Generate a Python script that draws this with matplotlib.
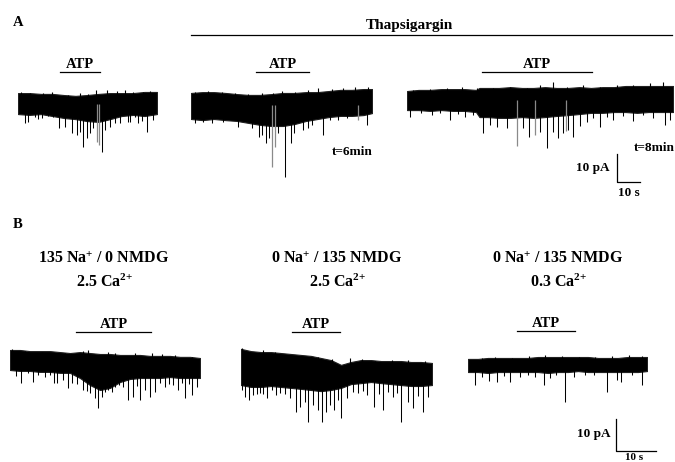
import matplotlib
matplotlib.use('Agg')
import matplotlib.pyplot as plt

plt.rcParams['font.family'] = ['Liberation Serif', 'DejaVu Serif']
plt.rcParams['font.weight'] = 'bold'
plt.rcParams['mathtext.fontset'] = 'custom'
plt.rcParams['mathtext.rm'] = 'Liberation Serif:bold'
plt.rcParams['mathtext.it'] = 'Liberation Serif:bold'
plt.rcParams['mathtext.bf'] = 'Liberation Serif:bold'

W, H = 675, 462

# ---------------- data (time in s, current in pA) ----------------
# Panel A, trace 1 (control)
a1_t = [0, 5, 10, 15, 20, 25, 30, 35, 40, 45, 50, 55, 60.4]
a1_up = [3.9, 3.9, 3.6, 3.6, 3.2, 2.9, 3.2, 3.6, 3.9, 3.9, 3.9, 4.3, 4.3]
a1_lo = [-3.6, -3.9, -3.6, -4.3, -5.0, -5.4, -6.1, -6.4, -5.4, -4.3, -3.9, -4.3, -3.6]
a1_spk_t = [3.0, 4.3, 7.4, 8.7, 10.3, 13.2, 15.4, 17.8, 20.4, 23.5, 25.7, 27.0, 28.3, 30.0, 31.3, 32.6,
            36.5, 37.8, 40.0, 42.2, 44.3, 48.0, 48.7, 50.9, 52.2, 53.8, 56.1, 58.7]
a1_spk_a = [-6.8, -6.4, -4.8, -5.4, -5.1, -4.3, -4.8, -8.6, -8.2, -10.4, -11.1, -10.0, -15.4, -12.1, -10.4, -8.6,
            -17.1, -9.3, -8.2, -6.8, -6.8, -6.3, -6.4, -4.8, -6.8, -6.0, -10.0, -5.7]
a1_gry_t = [34.3, 35.2]
a1_gry_a = [-13.6, -14.6]
a1_pk_t = [1.2, 5.2, 11.0, 14.7, 21.9, 26.9, 30.6, 33.9, 38.6, 42.9, 46.5, 50.1, 54.5, 57.4, 60.3]
a1_pk_a = [4.4, 4.0, 3.8, 4.2, 3.2, 4.0, 3.6, 5.0, 5.0, 4.6, 5.0, 4.4, 4.4, 4.6, 4.4]
a1_atp = (18.3, 35.7)

# Panel A, trace 2 (thapsigargin, t=6 min)
a2_t = [0, 5, 10, 15, 20, 25, 30, 35, 40, 45, 50, 55, 60, 65, 70, 75, 78.7]
a2_up = [4.3, 4.6, 4.6, 4.3, 3.9, 3.6, 3.6, 3.9, 4.3, 4.3, 4.6, 4.6, 5.0, 5.4, 5.4, 5.7, 5.7]
a2_lo = [-5.0, -5.4, -5.0, -5.4, -5.7, -6.4, -7.1, -7.5, -7.5, -6.8, -5.7, -5.0, -4.3, -3.9, -3.9, -3.6, -2.9]
a2_spk_t = [1.7, 5.0, 9.1, 14.0, 20.4, 26.5, 29.6, 30.9, 32.6, 33.9, 37.8, 40.9, 43.5, 44.8, 48.7, 50.9,
            52.6, 57.4, 60.5, 63.9, 68.0, 76.5]
a2_spk_a = [-6.4, -6.0, -6.4, -6.2, -7.9, -8.2, -11.4, -10.7, -13.6, -11.8, -10.0, -25.7, -13.6, -10.0, -8.9, -8.2,
            -7.1, -10.7, -5.4, -5.4, -4.8, -7.1]
a2_gry_t = [35.2, 36.5, 72.6]
a2_gry_a = [-22.1, -15.0, -5.4]
a2_pk_t = [1.7, 7.5, 13.3, 19.1, 24.9, 30.7, 35.8, 39.4, 45.2, 51.0, 55.3, 61.2, 66.2, 71.3, 77.1]
a2_pk_a = [4.8, 5.1, 4.8, 4.4, 3.9, 4.4, 4.2, 5.1, 4.8, 5.4, 6.0, 5.6, 6.0, 6.3, 6.5]
a2_atp = (28.3, 51.3)

# Panel A, trace 3 (thapsigargin, t=8 min)
a3_t = [0, 5, 10, 15, 20, 25, 30, 31.5, 35, 40, 45, 50, 55, 60, 65, 70, 75, 80, 85, 90, 95, 100, 105, 110, 115.7]
a3_up = [3.2, 3.6, 3.6, 3.9, 3.9, 3.9, 3.6, 4.3, 4.3, 4.3, 4.6, 4.3, 4.3, 4.6, 4.3, 4.3, 4.6, 4.3, 4.6, 4.6, 5.0, 5.0, 5.0, 5.0, 5.0]
a3_lo = [-3.6, -3.6, -3.9, -3.6, -3.9, -3.9, -4.3, -6.1, -6.1, -6.4, -6.4, -6.1, -6.4, -6.1, -5.7, -5.4, -5.0, -4.6, -4.6, -4.3, -4.3, -4.6, -4.3, -4.3, -4.3]
a3_spk_t = [1.3, 6.0, 10.9, 14.5, 18.7, 22.0, 25.2, 28.5, 33.0, 36.1, 39.1, 43.5, 50.4, 53.0, 57.8, 60.9, 63.5,
            65.7, 67.8, 70.0, 72.2, 75.2, 78.3, 81.0, 83.9, 87.0, 89.6, 94.0, 98.3, 102.5, 107.0, 112.2, 114.3]
a3_spk_a = [-6.1, -4.8, -5.4, -4.6, -7.1, -5.0, -6.1, -5.4, -11.8, -8.9, -9.6, -10.0, -10.0, -13.2, -11.4, -17.1, -11.4,
            -13.6, -11.8, -10.7, -13.2, -9.3, -7.9, -6.4, -9.6, -6.0, -7.1, -5.7, -7.5, -5.4, -6.4, -8.9, -7.1]
a3_gry_t = [47.8, 55.5, 69.0]
a3_gry_a = [-16.4, -12.5, -11.0]
a3_pk_t = [2.7, 10.0, 17.3, 23.8, 30.3, 37.5, 44.8, 52.0, 57.8, 63.6, 69.4, 76.7, 83.9, 91.2, 98.4, 105.7, 111.4]
a3_pk_a = [3.6, 3.9, 4.2, 4.8, 4.4, 4.2, 4.8, 4.4, 5.4, 6.5, 4.8, 5.4, 4.8, 5.4, 5.4, 6.0, 6.3]
a3_atp = (32.6, 80.4)

# Panel B, trace 1 (135 Na+ / 0 NMDG, 2.5 Ca2+)
b1_t = [0, 2.5, 5, 7.5, 10, 12.5, 15, 17.5, 20, 22.5, 25, 27.5, 30, 32.5, 35, 37.5, 40, 42.5, 45, 47.5]
b1_up = [3.75, 3.75, 3.4, 3.4, 3.4, 3.1, 2.8, 3.1, 2.8, 2.5, 2.5, 2.2, 2.2, 2.2, 1.9, 1.9, 1.9, 1.6, 1.6, 1.25]
b1_lo = [-2.5, -2.8, -2.8, -3.1, -3.1, -3.4, -3.4, -5.0, -7.2, -8.75, -8.1, -6.25, -5.3, -5.0, -5.0, -5.0, -4.7, -5.0, -5.0, -5.0]
b1_spk_t = [1.5, 2.8, 4.5, 5.8, 7.0, 8.8, 10.0, 11.0, 11.8, 13.3, 14.5, 15.5, 16.8, 18.3, 19.2, 20.0, 21.3, 22.0,
            23.0, 23.8, 24.5, 25.5, 26.3, 27.3, 28.3, 29.5, 30.8, 31.8, 32.5, 33.8, 35.0, 36.3, 37.5, 38.8, 39.8,
            40.8, 42.0, 43.0, 43.8, 44.8, 45.5, 46.8]
b1_spk_a = [-4.4, -6.6, -3.4, -6.3, -4.1, -4.7, -4.0, -6.6, -6.6, -5.6, -8.1, -6.6, -7.0, -8.8, -9.0, -9.7, -11.3, -14.4,
            -10.9, -9.5, -8.8, -9.4, -7.8, -7.2, -7.8, -11.9, -10.9, -7.5, -11.9, -8.8, -10.9, -9.4, -6.5, -7.8, -6.8,
            -7.2, -8.8, -6.6, -11.3, -7.0, -10.3, -7.8]
b1_gry_t = []
b1_gry_a = []
b1_pk_t = [0.4, 3.75, 7.9, 13.75, 18.3, 19.6, 24.6, 26.25, 31.25, 35.4, 37.9, 41.25, 45.4]
b1_pk_a = [4.0, 3.4, 3.2, 2.9, 3.5, 3.75, 3.2, 2.9, 2.7, 2.9, 2.5, 2.2, 1.5]
b1_atp = (16.5, 35.25)

# Panel B, trace 2 (0 Na+ / 135 NMDG, 2.5 Ca2+)
b2_t = [0, 2.5, 5, 7.5, 10, 12.5, 15, 17.5, 20, 22.5, 25, 27.5, 30, 32.5, 35, 37.5, 40, 42.5, 45, 47.75]
b2_up = [6.6, 5.9, 5.6, 5.6, 5.3, 5.0, 4.7, 4.4, 3.75, 3.1, 1.6, 2.5, 3.1, 3.1, 2.8, 2.8, 2.8, 2.5, 2.5, 2.2]
b2_lo = [-4.7, -5.3, -5.3, -5.0, -5.3, -5.6, -5.9, -6.25, -6.6, -6.25, -5.6, -4.4, -4.1, -3.75, -4.1, -4.4, -4.7, -5.0, -5.0, -4.7]
b2_spk_t = [0.25, 1.0, 2.0, 3.0, 4.0, 4.75, 5.6, 6.5, 7.75, 8.8, 9.75, 11.0, 12.25, 13.75, 14.75, 16.0, 16.75, 18.0,
            19.25, 20.25, 21.25, 22.25, 23.25, 24.2, 25.0, 26.5, 28.0, 29.25, 30.5, 31.5, 33.25, 34.5, 35.5, 36.8,
            38.0, 39.0, 40.0, 41.75, 43.0, 44.3, 45.5, 46.75]
b2_spk_a = [-6.25, -8.4, -9.4, -7.8, -7.5, -7.2, -7.5, -8.75, -6.25, -7.8, -7.2, -7.5, -8.75, -13.1, -11.6, -10.0,
            -16.25, -10.9, -12.5, -16.25, -13.1, -10.9, -12.5, -9.5, -15.0, -8.75, -7.0, -7.2, -6.5, -7.8, -11.6,
            -7.5, -12.5, -7.0, -8.4, -7.2, -16.25, -10.0, -11.9, -8.0, -13.1, -8.4]
b2_gry_t = []
b2_gry_a = []
b2_pk_t = [0.2, 5.6, 8.5, 15.2, 19.3, 22.7, 27.25, 30.2, 33.5, 37.7, 41.8, 46.0]
b2_pk_a = [6.8, 6.25, 5.7, 4.4, 4.2, 3.3, 3.6, 3.3, 2.9, 3.1, 3.1, 2.9]
b2_atp = (12.75, 24.75)

# Panel B, trace 3 (0 Na+ / 135 NMDG, 0.3 Ca2+)
b3_t = [0, 2.5, 5, 7.5, 10, 12.5, 15, 17.5, 20, 22.5, 25, 27.5, 30, 32.5, 35, 37.5, 40, 42.5, 44.75]
b3_up = [1.9, 1.9, 2.2, 2.2, 2.2, 2.2, 2.2, 2.5, 2.5, 2.5, 2.5, 2.5, 2.5, 2.2, 2.2, 2.2, 2.5, 2.5, 2.5]
b3_lo = [-2.2, -2.2, -2.5, -2.2, -2.2, -2.2, -2.2, -2.2, -2.5, -2.2, -2.2, -1.9, -2.2, -2.2, -2.2, -2.2, -2.2, -2.2, -1.9]
b3_spk_t = [1.75, 3.5, 5.25, 7.25, 9.0, 10.5, 13.0, 15.0, 16.75, 19.0, 20.5, 22.0, 24.25, 26.5, 29.25, 31.5,
            34.75, 37.25, 38.25, 41.0, 43.5]
b3_spk_a = [-6.25, -3.75, -5.0, -5.3, -3.4, -5.3, -3.75, -3.1, -3.75, -6.25, -4.1, -3.2, -11.6, -3.75, -3.1, -3.0,
            -8.4, -4.7, -5.3, -3.2, -6.25]
b3_gry_t = []
b3_gry_a = []
b3_pk_t = [3.5, 6.8, 11.0, 15.2, 19.3, 23.5, 27.7, 31.8, 36.0, 40.2, 43.5]
b3_pk_a = [2.3, 2.6, 2.3, 2.8, 3.1, 2.9, 2.6, 2.6, 2.9, 3.1, 2.8]
b3_atp = (12.25, 26.75)

# ---------------- layout (pixels) ----------------
A_PPS, A_PPA = 2.3, 2.8   # px per s, px per pA in panel A
B_PPS, B_PPA = 4.0, 3.2   # panel B

fig = plt.figure(figsize=(W / 100, H / 100), dpi=100)
ov = fig.add_axes([0, 0, 1, 1])
ov.set_xlim(0, W)
ov.set_ylim(H, 0)
ov.axis('off')


def px_axes(x0, ytop, wpx, hpx):
    ax = fig.add_axes([x0 / W, 1 - (ytop + hpx) / H, wpx / W, hpx / H])
    ax.axis('off')
    ax.patch.set_alpha(0)
    return ax


def trace(t, up, lo, st, sa, gt, ga, pt, pa, atp, x0, yb, pps, ppa, bar_px):
    ylo, yhi = -30.0, 15.0
    T = t[-1]
    ax = px_axes(x0, yb - yhi * ppa, T * pps, (yhi - ylo) * ppa)
    ax.set_xlim(0, T)
    ax.set_ylim(ylo, yhi)
    ax.fill_between(t, lo, up, color='black', lw=0.8, edgecolor='#202020')
    ax.vlines(pt, 0, pa, color='black', lw=0.8)
    ax.vlines(st, 0, sa, color='black', lw=0.75)
    if gt:
        ax.vlines(gt, 0, ga, color='#8a8a8a', lw=0.9)
    ybar = (yb - bar_px) / ppa
    ax.plot([atp[0], atp[1]], [ybar, ybar], color='black', lw=0.9, clip_on=False)
    ax.annotate('ATP', xy=((atp[0] + atp[1]) / 2, ybar), xytext=(0, 0.5),
                textcoords='offset points', ha='center', va='bottom',
                fontsize=10.5, fontweight='bold', annotation_clip=False)
    return ax


trace(a1_t, a1_up, a1_lo, a1_spk_t, a1_spk_a, a1_gry_t, a1_gry_a, a1_pk_t, a1_pk_a, a1_atp, 18, 104, A_PPS, A_PPA, 72)
trace(a2_t, a2_up, a2_lo, a2_spk_t, a2_spk_a, a2_gry_t, a2_gry_a, a2_pk_t, a2_pk_a, a2_atp, 191, 105, A_PPS, A_PPA, 72)
trace(a3_t, a3_up, a3_lo, a3_spk_t, a3_spk_a, a3_gry_t, a3_gry_a, a3_pk_t, a3_pk_a, a3_atp, 407, 100, A_PPS, A_PPA, 72)
trace(b1_t, b1_up, b1_lo, b1_spk_t, b1_spk_a, b1_gry_t, b1_gry_a, b1_pk_t, b1_pk_a, b1_atp, 10, 362, B_PPS, B_PPA, 332)
trace(b2_t, b2_up, b2_lo, b2_spk_t, b2_spk_a, b2_gry_t, b2_gry_a, b2_pk_t, b2_pk_a, b2_atp, 241, 370, B_PPS, B_PPA, 332)
trace(b3_t, b3_up, b3_lo, b3_spk_t, b3_spk_a, b3_gry_t, b3_gry_a, b3_pk_t, b3_pk_a, b3_atp, 468, 365, B_PPS, B_PPA, 331)


def scalebar(xc, yc, pps, ppa):
    ax = px_axes(xc, yc - 10 * ppa, 10 * pps, 10 * ppa)
    ax.set_xlim(0, 10)
    ax.set_ylim(0, 10)
    ax.plot([0, 0, 10], [10, 0, 0], color='black', lw=0.9, clip_on=False)


scalebar(617, 182, A_PPS, A_PPA)
scalebar(616, 451, B_PPS, B_PPA)

kw = dict(fontweight='bold', ha='center', va='center')
ov.text(13, 22, 'A', fontsize=10.5, **{**kw, 'ha': 'left'})
ov.text(409, 25, 'Thapsigargin', fontsize=11, **kw)
ov.plot([191, 672], [35, 35], color='black', lw=0.9)
ov.text(373, 152, 't=6min', fontsize=9.5, **{**kw, 'ha': 'right'})
ov.text(675, 148, 't=8min', fontsize=9.5, **{**kw, 'ha': 'right'})
ov.text(610, 168, '10 pA', fontsize=9.5, **{**kw, 'ha': 'right'})
ov.text(629, 193, '10 s', fontsize=9.5, **kw)

ov.text(13, 224, 'B', fontsize=10.5, **{**kw, 'ha': 'left'})
for xc, l1, l2 in [(104, r'135 Na$^{+}$ / 0 NMDG', r'2.5 Ca$^{2{+}}$'),
                   (337, r'0 Na$^{+}$ / 135 NMDG', r'2.5 Ca$^{2{+}}$'),
                   (558, r'0 Na$^{+}$ / 135 NMDG', r'0.3 Ca$^{2{+}}$')]:
    ov.text(xc, 259, l1, fontsize=11.5, **kw)
    ov.text(xc, 282, l2, fontsize=11.5, **kw)
ov.text(611, 434, '10 pA', fontsize=9.5, **{**kw, 'ha': 'right'})
ov.text(634, 459.5, '10 s', fontsize=8, **{**kw, 'va': 'baseline'})

fig.savefig('out.png', dpi=100)
